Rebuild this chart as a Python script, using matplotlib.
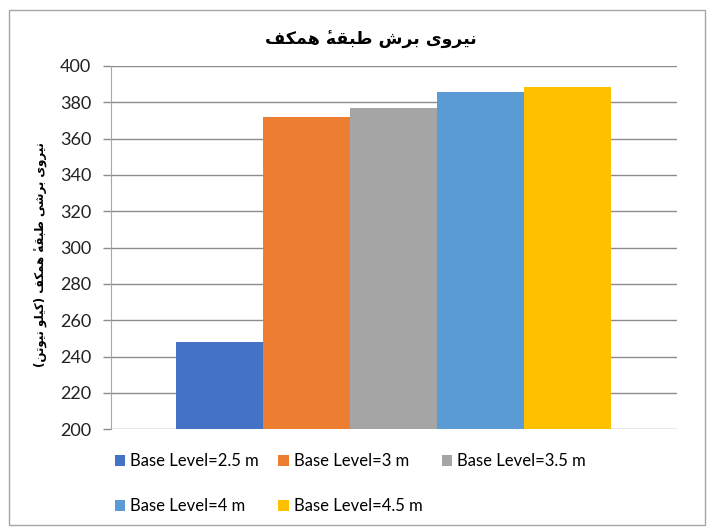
import matplotlib
matplotlib.use("Agg")
import matplotlib.pyplot as plt
from matplotlib.patches import Rectangle, Patch

# ---- data ----
series_labels = ["Base Level=2.5 m", "Base Level=3 m", "Base Level=3.5 m",
                 "Base Level=4 m", "Base Level=4.5 m"]
shear_values = [248, 372, 377, 385.5, 388.5]
colors = ["#4472C4", "#ED7D31", "#A5A5A5", "#5B9BD5", "#FFC000"]
y_ticks = list(range(200, 401, 20))
title_text = "نیروی برش طبقهٔ همکف"
ylabel_text = "نیروی برشی طبقهٔ همکف (کیلو نیوتن)"

# ---- minimal Persian shaping (matplotlib has no complex text layout) ----
FORMS = {
    # char: (isolated, final, initial, medial)
    "ن": ("\uFEE5", "\uFEE6", "\uFEE7", "\uFEE8"),
    "ی": ("\uFBFC", "\uFBFD", "\uFBFE", "\uFBFF"),
    "ر": ("\uFEAD", "\uFEAE", None, None),
    "و": ("\uFEED", "\uFEEE", None, None),
    "ب": ("\uFE8F", "\uFE90", "\uFE91", "\uFE92"),
    "ش": ("\uFEB5", "\uFEB6", "\uFEB7", "\uFEB8"),
    "ط": ("\uFEC1", "\uFEC2", "\uFEC3", "\uFEC4"),
    "ق": ("\uFED5", "\uFED6", "\uFED7", "\uFED8"),
    # heh with hamza above: heh glyph followed by a combining hamza
    "ۀ": ("\u0654\uFEE9", "\u0654\uFEEA", None, None),
    "ه": ("\uFEE9", "\uFEEA", "\uFEEB", "\uFEEC"),
    "م": ("\uFEE1", "\uFEE2", "\uFEE3", "\uFEE4"),
    "ک": ("\uFB8E", "\uFB8F", "\uFB90", "\uFB91"),
    "ف": ("\uFED1", "\uFED2", "\uFED3", "\uFED4"),
    "ل": ("\uFEDD", "\uFEDE", "\uFEDF", "\uFEE0"),
    "ت": ("\uFE95", "\uFE96", "\uFE97", "\uFE98"),
}
MIRROR = {"(": ")", ")": "("}


def shape_rtl(text):
    text = text.replace("ه\u0654", "ۀ")
    chars = list(text)
    out = []
    for i, c in enumerate(chars):
        if c not in FORMS:
            out.append(MIRROR.get(c, c))
            continue
        forms = FORMS[c]
        prev = chars[i - 1] if i > 0 else None
        nxt = chars[i + 1] if i + 1 < len(chars) else None
        join_prev = prev in FORMS and FORMS[prev][2] is not None
        join_next = forms[2] is not None and nxt in FORMS
        if join_prev and join_next:
            out.append(forms[3])
        elif join_prev:
            out.append(forms[1])
        elif join_next:
            out.append(forms[2])
        else:
            out.append(forms[0])
    return "".join(reversed(out))


# ---- figure ----
fig = plt.figure(figsize=(7.07, 5.27), dpi=100)
fig.patches.append(Rectangle((9 / 707, 1 - 525 / 527), 696 / 707, 515 / 527,
                             transform=fig.transFigure, fill=False,
                             edgecolor="#a6a6a6", linewidth=1.0))

ax = fig.add_axes([110.7 / 707, 1 - 429.3 / 527, 566 / 707, 363.3 / 527])

n = len(shear_values)
width = 0.1536
handles = []
for i, (v, c, lab) in enumerate(zip(shear_values, colors, series_labels)):
    x = (i - (n - 1) / 2) * width
    ax.bar(x, v - 200, bottom=200, width=width, color=c, zorder=3)
    handles.append(Patch(facecolor=c, label=lab))

ax.set_xlim(-0.5, 0.5)
ax.set_ylim(200, 400)
ax.set_yticks(y_ticks)
ax.set_xticks([])
ax.yaxis.grid(True, color="#8c8c8c", linewidth=1.0, zorder=0)
ax.set_axisbelow(True)
for s in ["top", "right", "bottom"]:
    ax.spines[s].set_visible(False)
ax.spines["left"].set_color("#a6a6a6")
ax.tick_params(axis="y", length=6, color="#8c8c8c", width=1.0,
               labelsize=13, labelcolor="#222222", pad=8)
for lbl in ax.get_yticklabels():
    lbl.set_fontfamily("Lato")

fig.text(371 / 707, 1 - 40 / 527, shape_rtl(title_text), ha="center",
         va="center", fontsize=12.5, fontweight="bold", family="DejaVu Sans")
fig.text(40 / 707, 1 - 255 / 527, shape_rtl(ylabel_text), ha="center",
         va="center", rotation=90, fontsize=8.5, fontweight="bold",
         family="DejaVu Sans")

order = [0, 3, 1, 4, 2]
fig.legend([handles[k] for k in order], [series_labels[k] for k in order],
           ncol=3, loc="upper left", bbox_to_anchor=(100 / 707, 1 - 438 / 527),
           frameon=False, prop={"family": "Lato", "size": 12},
           handlelength=0.62, handleheight=0.62, handletextpad=0.3,
           columnspacing=1.15, labelspacing=1.75)

fig.savefig("out.png", dpi=100)
